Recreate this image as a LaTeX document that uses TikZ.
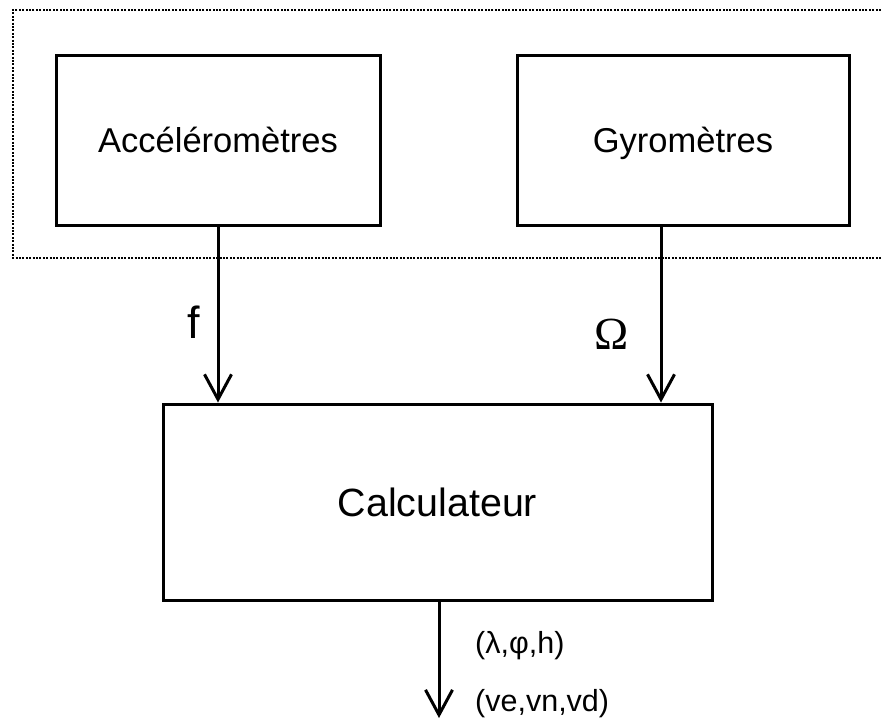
\documentclass[tikz,border=0pt]{standalone}
\usepackage{fontspec}
\setmainfont{Liberation Sans}
\newfontfamily\omegafont{Liberation Serif}
\usetikzlibrary{arrows.meta}
\tikzset{
  blockbox/.style={draw, line width=3pt, inner sep=0pt, fill=white},
  arr/.style={line width=3pt, -{Straight Barb[length=25pt,width=27pt]}},
  frameline/.style={line width=2pt, dash pattern=on 2pt off 1.4pt},
}
\begin{document}
\begin{tikzpicture}[x=1pt,y=-1pt]
\useasboundingbox (0,0) rectangle (881,720);
% dotted frame (open on the right, extends past the edge)
\draw[frameline] (881,10) -- (13,10) -- (13,258) -- (881,258);
% blocks
\node[blockbox, minimum width=324pt, minimum height=170pt, text height=24.7pt, text depth=0pt,
      font=\fontsize{34.5}{40}\selectfont] (acc) at (218,140) {Accéléromètres};
\node[blockbox, minimum width=332pt, minimum height=170pt, text height=24.7pt, text depth=0pt,
      font=\fontsize{34.5}{40}\selectfont] (gyro) at (683,140) {Gyromètres};
\node[blockbox, minimum width=549pt, minimum height=196pt, text height=28.2pt, text depth=0pt,
      font=\fontsize{39.4}{45}\selectfont] (calc) at (437.5,502) {Calculateur};
% connector coordinates
\coordinate (gx) at (661,0);
\coordinate (out) at (439,718);
% connectors
\draw[arr] (acc.south) -- (acc.south |- calc.north);
\draw[arr] (gyro.south -| gx) -- (calc.north -| gx);
\draw[arr] (calc.south -| out) -- (out);
% labels
\node[anchor=base, inner sep=0pt, font=\fontsize{45}{50}\selectfont] (lf) at (193.5,338) {f};
\node[anchor=base, inner sep=0pt, font=\omegafont\fontsize{46}{50}\selectfont] (lom) at (612,349) {Ω};
\node[anchor=base west, inner sep=0pt, font=\fontsize{30.5}{36}\selectfont] (lpos) at (475,653) {(λ,φ,h)};
\node[anchor=base west, inner sep=0pt, font=\fontsize{30.5}{36}\selectfont] (lvel) at (475,711) {(ve,vn,vd)};
\end{tikzpicture}
\end{document}
